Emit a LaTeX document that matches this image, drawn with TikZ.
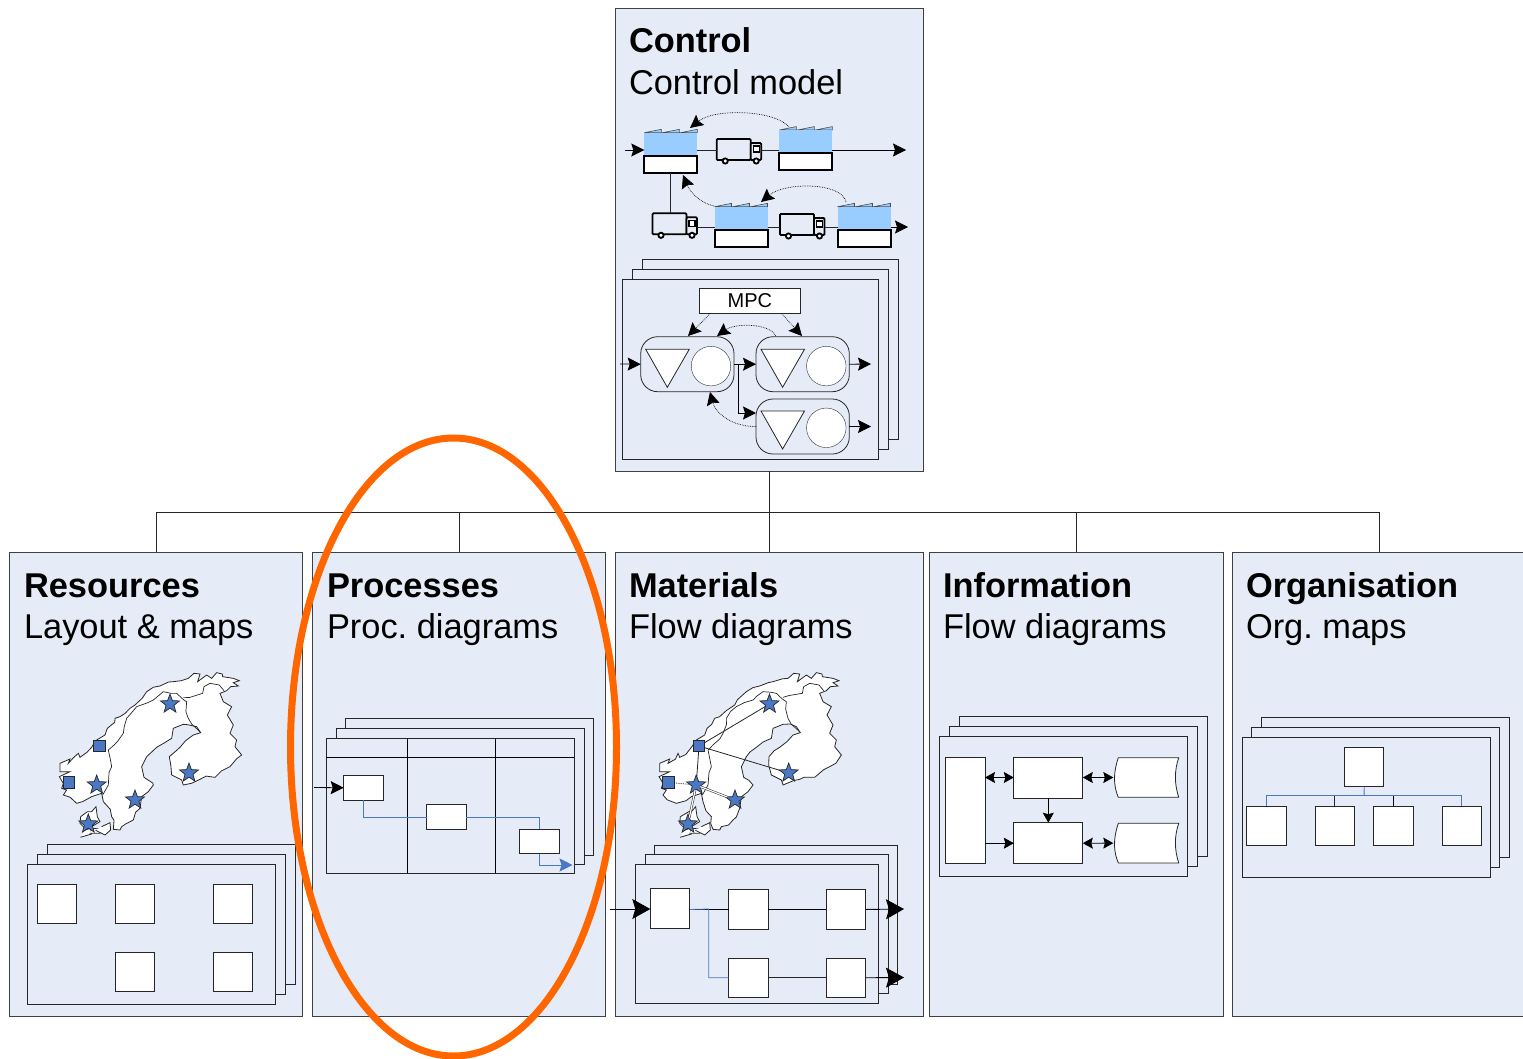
\documentclass[tikz,border=0pt]{standalone}
\usepackage{fontspec}
\setmainfont{Liberation Sans}
\usetikzlibrary{arrows.meta,shapes.geometric,decorations.pathmorphing}

\definecolor{panelblue}{HTML}{E6ECF7}
\definecolor{shedblue}{HTML}{99CCFF}
\definecolor{linkblue}{HTML}{4A78C4}
\definecolor{ringorange}{HTML}{FF6600}

% shed with a sawtooth roof: name, x, y
\newcommand{\factory}[3]{%
    \begin{scope}[shift={(#2,#3)}]
        \draw[roof] (0,0) -- (17,-3.4) -- (17,0) -- (18,0) -- (35,-3.4) -- (35,0) -- (36,0) -- (53,-3.4) -- (53,0) -- cycle;
        \node[shedtop, anchor=north west] (#1b) at (0,0) {};
        \node[shedfoot, anchor=north west] (#1) at (0,23.4) {};
    \end{scope}}
% lorry: name, x, y
\newcommand{\lorry}[3]{%
    \begin{scope}[shift={(#2,#3)}]
        \node[lorrybox, anchor=north west, minimum width=34pt, minimum height=21pt] (#1) at (0,0) {};
        \node[lorrybox, anchor=south west, minimum width=10.5pt, minimum height=17pt] (#1c) at (34,21) {};
        \draw[line width=1.2pt, fill=white] (36.5,7) rectangle (42.5,13);
        \draw[line width=1.8pt, fill=white] (8.5,22) circle (2.6pt);
        \draw[line width=1.8pt, fill=white] (39.5,22) circle (2.6pt);
    \end{scope}}
% triangle and circle in a rounded box: name, x, y of box
\newcommand{\buffer}[4]{%
    \node[stage, anchor=north west] (#1) at (#2,#3) {};
    \draw[tri] (#2+5,#3+#4) -- (#2+48.5,#3+#4) -- (#2+26.6,#3+#4+38) -- cycle;
    \node[circle, draw=black!80, fill=white, minimum size=39.5pt] (#1c) at (#2+70.3,#3+#4+16.8) {};}
% store with a curved front and back
\newcommand{\datastore}[3]{%
    \node[anchor=north west, minimum width=65.4pt, minimum height=39.6pt] (#1) at (#2,#3) {};
    \draw[thin box] (#2+5,#3) -- (#2+65.4,#3) .. controls (#2+61,#3+13) and (#2+61,#3+26) .. (#2+65.4,#3+39.6)
        -- (#2+5,#3+39.6) .. controls (#2+1,#3+30) and (#2-1,#3+18) .. (#2+5,#3) -- cycle;}
% outline of the Nordic countries
\newcommand{\norden}[1]{%
    \begin{scope}[shift={(20+#1,660)}, scale=0.3333]
        \draw[land] (120,310) -- (150,297) -- (145,310) -- (175,280) -- (180,292) -- (215,262) -- (255,225) -- (262,205) -- (285,175)
            -- (300,170) -- (330,145) -- (345,135) -- (380,95)
            -- (420,78) -- (460,65) -- (505,55) -- (522,40) -- (540,42) -- (533,65) -- (560,45) -- (575,55) -- (590,38)
            -- (607,42) -- (608,50) -- (640,55) -- (658,62) -- (640,68) -- (655,78) -- (632,80) -- (620,92) -- (600,100)
            -- (610,125) -- (635,140) -- (622,165) -- (640,195) -- (630,220) -- (650,240) -- (645,260) -- (665,285)
            -- (630,320) -- (585,352) -- (540,358) -- (490,375) -- (485,360) -- (455,345) -- (448,290) -- (480,262)
            -- (520,225) -- (542,218) -- (530,200) -- (490,193) -- (460,205) -- (455,235) -- (410,262) -- (380,290)
            -- (365,320) -- (372,352) -- (400,375) -- (385,395) -- (365,410) -- (360,445) -- (340,480) -- (305,500)
            -- (300,510) -- (280,508) -- (275,470) -- (250,425) -- (245,400) -- (215,410) -- (170,430) -- (130,405)
            -- (140,390) -- (125,385) -- (130,370) -- (118,350) -- (150,335) -- (120,335) -- cycle;
        % borders
        \draw[border] (430,95) -- (400,120) -- (350,140) -- (320,175) -- (310,220) -- (265,270) -- (275,320) -- (265,375) -- (248,405);
        \draw[border] (430,95) -- (470,100) -- (500,125) -- (505,175) -- (540,215);
        \draw[border] (490,112) -- (548,100) -- (552,80) -- (570,70) -- (598,75) -- (612,92);
        % Denmark
        \draw[land] (182,470) -- (215,455) -- (228,440) -- (232,470) -- (240,485) -- (215,500) -- (195,505) -- (180,490) -- cycle;
        \draw[land] (195,510) -- (212,505) -- (215,522) -- (198,527) -- cycle;
        \draw[land] (220,505) -- (238,507) -- (240,520) -- (225,520) -- cycle;
        \draw[land] (245,500) -- (270,488) -- (272,510) -- (255,525) -- (245,520) -- cycle;
    \end{scope}}

\begin{document}
\begin{tikzpicture}[
        x=1pt, y=-1pt,
        every node/.style={inner sep=0pt, outer sep=0pt},
        panel/.style={draw=black!75, fill=panelblue, line width=0.8pt, anchor=north west},
        sheet/.style={draw=black!85, fill=panelblue, line width=1pt, anchor=north west},
        box/.style={draw=black!85, fill=white, line width=1pt, anchor=north west},
        thin box/.style={draw=black!85, fill=white, line width=0.8pt},
        heading/.style={anchor=base west, font=\fontsize{34.4}{34}\selectfont\bfseries},
        subheading/.style={anchor=base west, font=\fontsize{34.4}{34}\selectfont},
        stage/.style={draw=black!85, fill=panelblue, rounded corners=17pt, line width=0.8pt, minimum width=93.3pt, minimum height=55pt},
        tri/.style={draw=black!85, fill=white, line width=0.8pt},
        shedtop/.style={fill=shedblue, minimum width=53pt, minimum height=23.4pt},
        shedfoot/.style={draw=black, fill=white, line width=2pt, minimum width=53pt, minimum height=16.5pt},
        roof/.style={draw=black!70, fill=shedblue, line width=0.6pt},
        lorrybox/.style={draw=black, fill=panelblue, line width=1.8pt, rounded corners=1pt},
        land/.style={draw=black!85, fill=white, line width=0.8pt, decorate, decoration={random steps, segment length=8pt, amplitude=2.5pt}},
        border/.style={draw=black!85, line width=0.7pt, decorate, decoration={random steps, segment length=8pt, amplitude=2pt}},
        star mark/.style={star, star points=5, star point ratio=2.4, draw=black!85, fill=linkblue, line width=0.7pt, minimum size=20pt},
        site/.style={draw=black!85, fill=linkblue, line width=0.8pt, minimum size=11.5pt},
        arrow/.style={-{Stealth[length=13pt, width=13pt, inset=2pt]}, line width=0.8pt, black},
        big arrow/.style={-{Stealth[length=18pt, width=20pt, inset=3pt]}, line width=0.9pt, black},
        both/.style={{Stealth[length=10pt, width=11pt, inset=1.5pt]}-{Stealth[length=10pt, width=11pt, inset=1.5pt]}, line width=0.8pt, black},
        small arrow/.style={-{Stealth[length=10pt, width=11pt, inset=1.5pt]}, line width=0.8pt, black},
        dotted arrow/.style={-{Stealth[length=13pt, width=13pt, inset=2pt]}, densely dotted, line width=0.7pt, black},
        tree/.style={draw=black!85, line width=0.8pt},
        link/.style={draw=linkblue, line width=0.8pt},
        blue arrow/.style={-{Stealth[length=13pt, width=13pt, inset=2pt]}, linkblue, line width=0.8pt},
        ring/.style={ellipse, draw=ringorange, line width=7pt, minimum width=326pt, minimum height=618pt}
    ]
    \clip (0,0) rectangle (1523,1058);

    % Panels
    \node[panel, minimum width=308pt, minimum height=463.4pt] (control) at (615.3,8) {};
    \node[panel, minimum width=293pt, minimum height=464pt] (resources) at (9.6,552) {};
    \node[panel, minimum width=293.6pt, minimum height=464pt] (processes) at (312.2,552) {};
    \node[panel, minimum width=308.6pt, minimum height=464pt] (materials) at (615,552) {};
    \node[panel, minimum width=293.6pt, minimum height=464pt] (information) at (929.3,552) {};
    \node[panel, minimum width=300pt, minimum height=464pt] (organisation) at (1232,552) {};

    % Tree
    \coordinate (bus) at (769.3,512.8);
    \draw[tree] (control.south -| bus) -- (bus);
    \draw[tree] (resources.north) |- (bus);
    \draw[tree] (processes.north) |- (bus);
    \draw[tree] (materials.north -| bus) -- (bus);
    \draw[tree] (information.north) |- (bus);
    \draw[tree] (1379,552) |- (bus);

    % Titles
    \node[heading] (controlT) at (629,52) {Control};
    \node[subheading] (controlS) at (629,94) {Control model};
    \node[heading] (resourcesT) at (24,597) {Resources};
    \node[subheading] (resourcesS) at (24,638) {Layout \& maps};
    \node[heading] (processesT) at (327,597) {Processes};
    \node[subheading] (processesS) at (327,638) {Proc.\ diagrams};
    \node[heading] (materialsT) at (629,597) {Materials};
    \node[subheading] (materialsS) at (629,638) {Flow diagrams};
    \node[heading] (informationT) at (943,597) {Information};
    \node[subheading] (informationS) at (943,638) {Flow diagrams};
    \node[heading] (organisationT) at (1246,597) {Organisation};
    \node[subheading] (organisationS) at (1246,638) {Org.\ maps};

    % Control: supply chain
    \factory{f1}{644.3}{132.7}
    \factory{f2}{779.3}{130}
    \factory{f3}{714.5}{206.7}
    \factory{f4}{837.5}{206.7}
    \lorry{l1}{716.7}{139}
    \lorry{l2}{652.5}{213.3}
    \lorry{l3}{780}{214}
    \coordinate (in1) at (625,150);
    \coordinate (out1) at (906,150);
    \coordinate (out2) at (908,227);
    \draw[arrow] (in1) -- (f1b.west |- in1);
    \draw[tree] (f1b.east |- in1) -- (l1.west |- in1);
    \draw[tree] (l1c.east |- in1) -- (f2b.west |- in1);
    \draw[arrow] (f2b.east |- in1) -- (out1);
    \draw[tree] (l2c.east |- out2) -- (f3b.west |- out2);
    \draw[tree] (f3b.east |- out2) -- (l3.west |- out2);
    \draw[tree] (l3c.east |- out2) -- (f4b.west |- out2);
    \draw[arrow] (f4b.east |- out2) -- (out2);
    \draw[tree] (l2.north -| f1.south) -- (f1.south);
    \draw[dotted arrow] (789,127) .. controls (775,110) and (715,108) .. (690,128);
    \draw[dotted arrow] (714,206) .. controls (700,203) and (690,192) .. (683,175);
    \draw[dotted arrow] (846,202) .. controls (842,182) and (785,182) .. (761,202);

    % Control: MPC sheets
    \node[sheet, minimum width=256pt, minimum height=180pt] (mpcC) at (642.3,259.6) {};
    \node[sheet, minimum width=256pt, minimum height=180pt] (mpcB) at (632.3,269.2) {};
    \node[sheet, minimum width=256pt, minimum height=180pt] (mpcA) at (622.7,279) {};
    \node[box, minimum width=101.7pt, minimum height=25.4pt, font=\fontsize{20}{20}\selectfont] (mpc) at (699,288.3) {MPC};
    \buffer{s1}{640.7}{336.7}{12.6}
    \buffer{s2}{756}{336.7}{12.6}
    \buffer{s3}{756}{399}{12}
    \coordinate (mpcin) at (620,364);
    \coordinate (s1out) at (738,364);
    \coordinate (s2out) at (871,364);
    \coordinate (s3in) at (756,413);
    \coordinate (s3out) at (871,426.5);
    \draw[arrow] (mpcin) -- (s1.west);
    \draw[arrow] (s1.east) -- (s2.west);
    \draw[arrow] (s1out) |- (s3in);
    \draw[arrow] (s2.east) -- (s2out);
    \draw[arrow] (s3.east) -- (s3out);
    \draw[dotted arrow] (mpc.south west) ++(11,0) -- (688,336);
    \draw[dotted arrow] (mpc.south east) ++(-19,0) -- (802,336);
    \draw[dotted arrow] (775.7,336) .. controls (770,323) and (735,323) .. (717,336);
    \draw[dotted arrow] (s3.west) .. controls (735,427) and (716,415) .. (710,392);

    % Resources
    \norden{0}
    \node[site] (rs1) at (99.3,746) {};
    \node[site] (rs2) at (68.7,782.3) {};
    \node[star mark] (rm1) at (170,704) {};
    \node[star mark] (rm2) at (189,773) {};
    \node[star mark] (rm3) at (96.7,785) {};
    \node[star mark] (rm4) at (135,800) {};
    \node[star mark] (rm5) at (88.3,824) {};
    \node[sheet, minimum width=248.5pt, minimum height=140pt] (resC) at (47,844) {};
    \node[sheet, minimum width=248.5pt, minimum height=140pt] (resB) at (37,854) {};
    \node[sheet, minimum width=248.5pt, minimum height=140pt] (resA) at (27,864) {};
    \node[box, minimum size=39.5pt] (r1) at (37.2,884) {};
    \node[box, minimum size=39.5pt] (r2) at (115.3,884) {};
    \node[box, minimum size=39.5pt] (r3) at (213.2,884) {};
    \node[box, minimum size=39.5pt] (r4) at (115.3,952) {};
    \node[box, minimum size=39.5pt] (r5) at (213.2,952) {};

    % Processes
    \node[sheet, minimum width=248pt, minimum height=137pt] (procC) at (345.5,718) {};
    \node[sheet, minimum width=248pt, minimum height=136pt] (procB) at (336,728) {};
    \node[sheet, minimum width=248pt, minimum height=135pt] (procA) at (326,738) {};
    \coordinate (head) at (326,757);
    \coordinate (lane1) at (407.5,738);
    \coordinate (lane2) at (495.5,738);
    \draw[tree, black] (head) -- (procA.east |- head);
    \draw[tree, black] (lane1) -- (lane1 |- procA.south);
    \draw[tree, black] (lane2) -- (lane2 |- procA.south);
    \node[box, minimum width=39.5pt, minimum height=24.5pt] (p1) at (343.7,775.5) {};
    \node[box, minimum width=39.5pt, minimum height=24.5pt] (p2) at (426.7,804.7) {};
    \node[box, minimum width=39.5pt, minimum height=24.5pt] (p3) at (519.5,829) {};
    \coordinate (procin) at (314,787.5);
    \coordinate (procout) at (572.5,865);
    \draw[arrow] (procin) -- (p1.west);
    \draw[link] (p1.south) |- (p2.west);
    \draw[link] (p2.east) -| (p3.north);
    \draw[blue arrow] (p3.south) |- (procout);

    % Materials
    \norden{599.7}
    \node[site] (ms1) at (699,746) {};
    \node[site] (ms2) at (668.4,782.3) {};
    \node[star mark] (mm1) at (769.5,704) {};
    \node[star mark] (mm2) at (788.7,773) {};
    \node[star mark] (mm3) at (696.2,785) {};
    \node[star mark] (mm4) at (735,800) {};
    \node[star mark] (mm5) at (688,824) {};
    \draw[tree] (ms1) -- (mm1);
    \draw[tree] (ms1) -- (mm2);
    \draw[tree] (ms1) -- (mm3);
    \draw[tree, densely dotted] (ms2) -- (mm3);
    \draw[tree, double, double distance=1.2pt, line width=0.5pt] (mm3) -- (mm4);
    \draw[tree, double, double distance=1.2pt, line width=0.5pt] (mm3) -- (mm5);
    \node[sheet, minimum width=243.5pt, minimum height=139pt] (matC) at (654.3,845) {};
    \node[sheet, minimum width=243.5pt, minimum height=139pt] (matB) at (645,854.5) {};
    \node[sheet, minimum width=243.5pt, minimum height=139pt] (matA) at (635,864.3) {};
    \node[box, minimum size=39.5pt] (m1) at (650.3,888.7) {};
    \node[box, minimum size=39.5pt] (m2) at (728.5,889.7) {};
    \node[box, minimum size=39.5pt] (m3) at (826.3,889.7) {};
    \node[box, minimum size=39.5pt] (m4) at (728.5,958) {};
    \node[box, minimum size=39.5pt] (m5) at (826.3,958) {};
    \coordinate (matin) at (610,909);
    \coordinate (matout1) at (904,909);
    \coordinate (matout2) at (904,977.5);
    \coordinate (matbus) at (708.7,909);
    \draw[big arrow] (matin) -- (m1.west |- matin);
    \draw[tree, black] (m1.east |- m2) -- (m2.west);
    \draw[link] (m1.east |- m2) -- (matbus) |- (m4.west);
    \draw[tree, black] (m2.east) -- (m3.west);
    \draw[tree] (m4.east) -- (m5.west);
    \draw[big arrow] (m3.east) -- (matout1);
    \draw[big arrow] (m5.east) -- (matout2);

    % Information
    \node[sheet, minimum width=248pt, minimum height=140pt] (infC) at (959,716.5) {};
    \node[sheet, minimum width=248pt, minimum height=140pt] (infB) at (949,726.5) {};
    \node[sheet, minimum width=248pt, minimum height=140pt] (infA) at (939.5,736.2) {};
    \node[box, minimum width=39.5pt, minimum height=106pt] (i0) at (945.5,757) {};
    \node[box, minimum width=69pt, minimum height=41pt] (i1) at (1013.8,757) {};
    \node[box, minimum width=69pt, minimum height=41pt] (i2) at (1013.8,822.7) {};
    \datastore{d1}{1113.3}{757.7}
    \datastore{d2}{1113.3}{823.3}
    \draw[both] (i0.east |- i1) -- (i1.west);
    \draw[both] (i1.east) -- (d1.west);
    \draw[small arrow] (i0.east |- i2) -- (i2.west);
    \draw[both] (i2.east) -- (d2.west);
    \draw[small arrow] (i1.south) -- (i2.north);

    % Organisation
    \node[sheet, minimum width=248pt, minimum height=140pt] (orgC) at (1261.7,717.3) {};
    \node[sheet, minimum width=248pt, minimum height=140pt] (orgB) at (1251.7,727.3) {};
    \node[sheet, minimum width=248pt, minimum height=140pt] (orgA) at (1242,737) {};
    \node[box, minimum size=39.5pt] (o0) at (1344.4,747) {};
    \node[box, minimum size=39.5pt] (o1) at (1246.8,806) {};
    \node[box, minimum size=39.5pt] (o2) at (1315.1,806) {};
    \node[box, minimum size=39.5pt] (o3) at (1373.5,806) {};
    \node[box, minimum size=39.5pt] (o4) at (1442.1,806) {};
    \coordinate (orgbus) at (1364.1,795.5);
    \draw[link] (o0.south) -- (orgbus);
    \draw[link] (o1.north) |- (orgbus);
    \draw[link] (o4.north) |- (orgbus);
    \draw[tree] (o2.north) -- (o2.north |- orgbus);
    \draw[tree, black] (o3.north) -- (o3.north |- orgbus);

    % Highlight
    \node[ring] (focus) at (453.5,747) {};
\end{tikzpicture}
\end{document}
